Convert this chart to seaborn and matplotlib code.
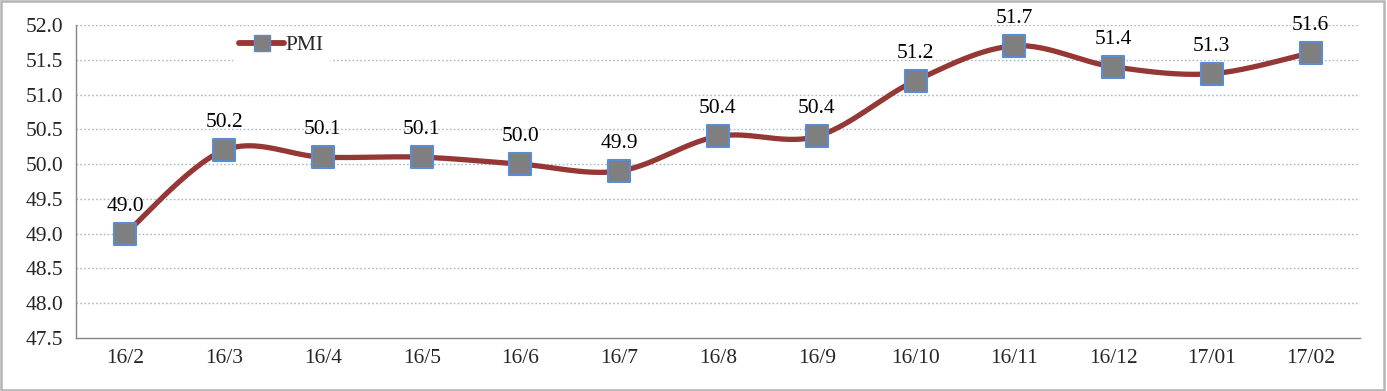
import numpy as np
import matplotlib
matplotlib.use("Agg")
import matplotlib.pyplot as plt
import seaborn as sns
from matplotlib.patches import Rectangle
from matplotlib.lines import Line2D

categories = ["16/2", "16/3", "16/4", "16/5", "16/6", "16/7", "16/8", "16/9",
              "16/10", "16/11", "16/12", "17/01", "17/02"]
pmi = [49.0, 50.2, 50.1, 50.1, 50.0, 49.9, 50.4, 50.4, 51.2, 51.7, 51.4, 51.3, 51.6]
y_ticks = [47.5, 48.0, 48.5, 49.0, 49.5, 50.0, 50.5, 51.0, 51.5, 52.0]

sns.set_theme(style="white")
plt.rcParams["font.family"] = ["Liberation Serif", "DejaVu Serif"]

LINE = "#953735"
FACE = "#7f7f7f"
EDGE = "#5b8bd0"
GRID = "#a9b8c8"
FS = 15.5


def excel_smooth(xs, ys, n=30):
    xs = np.asarray(xs, float)
    ys = np.asarray(ys, float)
    px = np.concatenate([[xs[0]], xs, [xs[-1]]])
    py = np.concatenate([[ys[0]], ys, [ys[-1]]])
    ox, oy = [], []
    t = np.linspace(0, 1, n)
    for i in range(1, len(px) - 2):
        p0 = np.array([px[i - 1], py[i - 1]])
        p1 = np.array([px[i], py[i]])
        p2 = np.array([px[i + 1], py[i + 1]])
        p3 = np.array([px[i + 2], py[i + 2]])
        c1 = p1 + (p2 - p0) / 6.0
        c2 = p2 - (p3 - p1) / 6.0
        b = ((1 - t) ** 3)[:, None] * p1 + (3 * (1 - t) ** 2 * t)[:, None] * c1 \
            + (3 * (1 - t) * t ** 2)[:, None] * c2 + (t ** 3)[:, None] * p2
        ox.extend(b[:, 0]); oy.extend(b[:, 1])
    return np.array(ox), np.array(oy)


fig = plt.figure(figsize=(13.87, 3.91), dpi=100)
fig.patches.append(Rectangle((0.001, 0.002), 0.997, 0.995, transform=fig.transFigure,
                             fill=False, edgecolor="#b4b4b4", linewidth=1.8))
ax = fig.add_axes([0.0548, 0.1355, 0.9257, 0.8005])

x = np.arange(len(categories))
sx, sy = excel_smooth(x, pmi)
ax.plot(sx, sy, color=LINE, linewidth=3.8, solid_capstyle="round", zorder=3)
sns.scatterplot(x=x, y=pmi, ax=ax, marker="s", s=260, color=FACE,
                edgecolor=EDGE, linewidth=1.5, zorder=4, legend=False)

for xi, v in zip(x, pmi):
    ax.annotate(f"{v:.1f}", (xi, v), xytext=(0, 13), textcoords="offset points",
                ha="center", va="bottom", fontsize=FS, color="black", zorder=5)

ax.set_xlim(-0.5, len(categories) - 0.5)
ax.set_ylim(47.5, 52.0)
ax.set_yticks(y_ticks)
ax.set_yticklabels([f"{v:.1f}" for v in y_ticks], fontsize=FS)
ax.set_xticks(x)
ax.set_xticklabels(categories, fontsize=FS)
ax.set_xticks(np.arange(-0.5, len(categories), 1.0), minor=True)
ax.tick_params(axis="x", which="major", length=0, pad=8)
ax.tick_params(axis="x", which="minor", length=6, color="#868686", width=1, direction="out")
ax.tick_params(axis="y", length=5, color="#868686", width=1, direction="out", pad=4)

for yv in y_ticks[1:]:
    ax.axhline(yv, color=GRID, linestyle=(0, (1.2, 1.6)), linewidth=1.0, zorder=1)

for s in ["top", "right"]:
    ax.spines[s].set_visible(False)
for s in ["left", "bottom"]:
    ax.spines[s].set_color("#868686")
    ax.spines[s].set_linewidth(1.0)

handle = Line2D([], [], color=LINE, linewidth=4.2, marker="s", markersize=11,
                markerfacecolor=FACE, markeredgecolor=EDGE)
leg = ax.legend([handle], ["PMI"], loc="center", bbox_to_anchor=(0.16, 0.936),
                frameon=True, fontsize=FS, handlelength=2.1, handletextpad=0.05,
                borderpad=0.3)
leg.get_frame().set_edgecolor("white")
leg.get_frame().set_facecolor("white")
leg.get_frame().set_alpha(1.0)
leg.set_zorder(6)

fig.savefig("out.png", dpi=100)
